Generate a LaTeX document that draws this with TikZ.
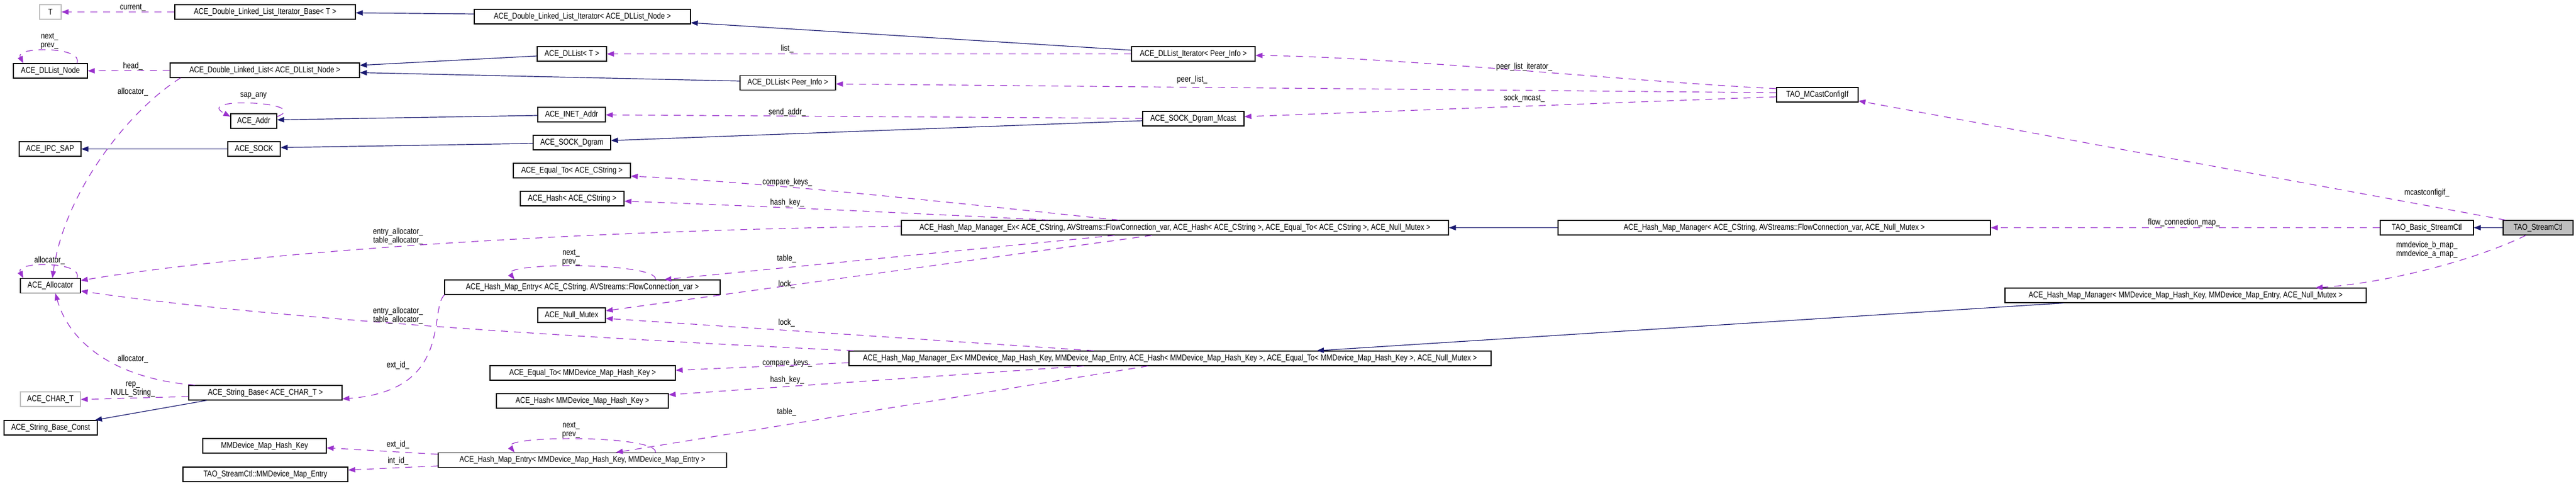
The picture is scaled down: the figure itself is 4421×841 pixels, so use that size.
\documentclass[tikz,border=0pt]{standalone}
\usepackage{fontspec}
\setmainfont{Liberation Sans}[FakeStretch=0.83]
\usetikzlibrary{arrows.meta}
\definecolor{navyc}{HTML}{191970}
\definecolor{purpc}{HTML}{9A32CD}
\definecolor{grayc}{HTML}{BFBFBF}
\begin{document}
\begin{tikzpicture}[x=1pt,y=-1pt,
  box/.style={draw=black,line width=1.2pt,inner sep=0pt,minimum height=25pt,font=\fontsize{14.5}{15}\selectfont,anchor=center},
  gbox/.style={box,draw=grayc},
  lab/.style={inner sep=0pt,font=\fontsize{14.5}{15}\selectfont,align=center},
  inhe/.style={draw=navyc,line width=1.2pt,-{Triangle[length=12pt,width=9pt]}},
  usg/.style={draw=purpc,line width=1.2pt,dash pattern=on 12pt off 10pt,-{Triangle[length=12pt,width=9pt]}}
]
\fill[white] (0,0) rectangle (4421,841);
\useasboundingbox (0,0) rectangle (4421,841);
% nodes
\node[gbox,minimum width=37pt] (nT) at (86.5,20.5) {T};
\node[box,minimum width=310pt] (nItBase) at (455,20.5) {ACE\_Double\_Linked\_List\_Iterator\_Base< T >};
\node[box,minimum width=371pt] (nIt) at (999.5,28.5) {ACE\_Double\_Linked\_List\_Iterator< ACE\_DLList\_Node >};
\node[box,minimum width=127pt] (nNode) at (86.5,121.5) {ACE\_DLList\_Node};
\node[box,minimum width=325pt] (nDLL) at (454.5,120.5) {ACE\_Double\_Linked\_List< ACE\_DLList\_Node >};
\node[box,minimum width=119pt] (nDLListT) at (981.5,92.5) {ACE\_DLList< T >};
\node[box,minimum width=164pt] (nDLListP) at (1352,142) {ACE\_DLList< Peer\_Info >};
\node[box,minimum width=212pt] (nDLIterP) at (2048,92.5) {ACE\_DLList\_Iterator< Peer\_Info >};
\node[box,minimum width=140pt] (nMcast) at (3119,162.5) {TAO\_MCastConfigIf};
\node[box,minimum width=79pt] (nAddr) at (435.5,207.5) {ACE\_Addr};
\node[box,minimum width=116pt] (nInet) at (981,196.5) {ACE\_INET\_Addr};
\node[box,minimum width=106pt] (nIPC) at (86,255.5) {ACE\_IPC\_SAP};
\node[box,minimum width=90pt] (nSock) at (436,255.5) {ACE\_SOCK};
\node[box,minimum width=133pt] (nDgram) at (981.5,244.5) {ACE\_SOCK\_Dgram};
\node[box,minimum width=174pt] (nDgramM) at (2048,203.5) {ACE\_SOCK\_Dgram\_Mcast};
\node[box,minimum width=201pt] (nEqCS) at (981.5,292.5) {ACE\_Equal\_To< ACE\_CString >};
\node[box,minimum width=178pt] (nHashCS) at (982,340.5) {ACE\_Hash< ACE\_CString >};
\node[box,minimum width=939pt] (nExCS) at (2016.5,390.5) {ACE\_Hash\_Map\_Manager\_Ex< ACE\_CString, AVStreams::FlowConnection\_var, ACE\_Hash< ACE\_CString >, ACE\_Equal\_To< ACE\_CString >, ACE\_Null\_Mutex >};
\node[box,minimum width=742pt] (nMgrCS) at (3045,390.5) {ACE\_Hash\_Map\_Manager< ACE\_CString, AVStreams::FlowConnection\_var, ACE\_Null\_Mutex >};
\node[box,minimum width=160pt] (nBasic) at (4165,390.5) {TAO\_Basic\_StreamCtl};
\node[box,minimum width=120pt,fill=grayc] (nCtl) at (4356,390.5) {TAO\_StreamCtl};
\node[box,minimum width=103pt] (nAlloc) at (86.5,490) {ACE\_Allocator};
\node[box,minimum width=473pt] (nEntryCS) at (999.5,492.5) {ACE\_Hash\_Map\_Entry< ACE\_CString, AVStreams::FlowConnection\_var >};
\node[box,minimum width=116pt] (nNull) at (981,540.5) {ACE\_Null\_Mutex};
\node[box,minimum width=620pt] (nMgrMM) at (3751,506.5) {ACE\_Hash\_Map\_Manager< MMDevice\_Map\_Hash\_Key, MMDevice\_Map\_Entry, ACE\_Null\_Mutex >};
\node[box,minimum width=1102pt] (nExMM) at (2008,614.5) {ACE\_Hash\_Map\_Manager\_Ex< MMDevice\_Map\_Hash\_Key, MMDevice\_Map\_Entry, ACE\_Hash< MMDevice\_Map\_Hash\_Key >, ACE\_Equal\_To< MMDevice\_Map\_Hash\_Key >, ACE\_Null\_Mutex >};
\node[box,minimum width=318pt] (nEqMM) at (1000,639.5) {ACE\_Equal\_To< MMDevice\_Map\_Hash\_Key >};
\node[box,minimum width=263pt] (nStrBase) at (455.5,673.5) {ACE\_String\_Base< ACE\_CHAR\_T >};
\node[gbox,minimum width=103pt] (nCharT) at (86.5,684.5) {ACE\_CHAR\_T};
\node[box,minimum width=295pt] (nHashMM) at (999.5,687.5) {ACE\_Hash< MMDevice\_Map\_Hash\_Key >};
\node[box,minimum width=160pt] (nStrConst) at (87,733.5) {ACE\_String\_Base\_Const};
\node[box,minimum width=212pt] (nMMKey) at (454,764.5) {MMDevice\_Map\_Hash\_Key};
\node[box,minimum width=495pt] (nEntryMM) at (999.5,789) {ACE\_Hash\_Map\_Entry< MMDevice\_Map\_Hash\_Key, MMDevice\_Map\_Entry >};
\node[box,minimum width=283pt] (nMMEntry) at (455.5,813.5) {TAO\_StreamCtl::MMDevice\_Map\_Entry};
% inheritance
\draw[inhe] ([yshift=4.5pt]nIt.west) -- ([yshift=-1.5pt]nItBase.east);
\draw[inhe] ([yshift=-3.5pt]nDLListT.west) -- ([yshift=8.5pt]nDLL.east);
\draw[inhe] ([yshift=3pt]nDLListP.west) -- ([yshift=-4pt]nDLL.east);
\draw[inhe] ([yshift=6.5pt]nDLIterP.west) -- ([yshift=-10.5pt]nIt.east);
\draw[inhe] ([yshift=-1.5pt]nInet.west) -- ([yshift=2pt]nAddr.east);
\draw[inhe] ([yshift=-1.5pt]nDgram.west) -- ([yshift=2.5pt]nSock.east);
\draw[inhe] (nSock.west) -- (nIPC.east);
\draw[inhe] ([yshift=-3.5pt]nDgramM.west) -- ([yshift=3.5pt]nDgram.east);
\draw[inhe] ([xshift=-100.5pt]nStrBase.south) -- ([xshift=76pt]nStrConst.north);
\draw[inhe] (nMgrCS.west) -- (nExCS.east);
\draw[inhe] ([xshift=-209pt]nMgrMM.south) -- ([xshift=252pt]nExMM.north);
\draw[inhe] (nCtl.west) -- (nBasic.east);
% usage
\draw[usg] (nItBase.west) -- (nT.east);
\draw[usg] (nDLL.west) -- (nNode.east);
\draw[usg] ([xshift=45.5pt]nNode.north) .. controls +(13,-29) and +(-15,-29) .. ([xshift=-46.5pt]nNode.north);
\draw[usg] ([xshift=-144.5pt]nDLL.south) .. controls (220,190) and (110,330) .. ([xshift=3.5pt]nAlloc.north);
\draw[usg] ([xshift=45.5pt]nAlloc.north) .. controls +(13,-29) and +(-15,-29) .. ([xshift=-46.5pt]nAlloc.north);
\draw[usg] ([yshift=7.5pt]nAddr.east) .. controls (540,175) and (330,165) .. ([yshift=7.5pt]nAddr.west);
\draw[usg] (nDLIterP.west) -- (nDLListT.east);
\draw[usg] ([yshift=10.5pt]nMcast.west) .. controls (2800,140) and (2400,98) .. ([yshift=-2.5pt]nDLIterP.east);
\draw[usg] ([yshift=3.5pt]nMcast.west) -- ([yshift=-2pt]nDLListP.east);
\draw[usg] ([yshift=-3.5pt]nMcast.west) -- ([yshift=3.5pt]nDgramM.east);
\draw[usg] ([yshift=0.5pt]nDgramM.west) -- ([yshift=-0.5pt]nInet.east);
\draw[usg] ([xshift=-56pt]nCtl.north) -- ([yshift=-10.5pt]nMcast.east);
\draw[usg] (nBasic.west) -- (nMgrCS.east);
\draw[usg] ([xshift=-21pt]nCtl.south) .. controls (4250,445) and (4100,485) .. ([xshift=223pt]nMgrMM.north);
\draw[usg] ([xshift=-96.5pt]nExCS.north) .. controls (1700,355) and (1350,315) .. ([yshift=-9.5pt]nEqCS.east);
\draw[usg] ([xshift=-216.5pt]nExCS.north) .. controls (1650,370) and (1350,355) .. ([yshift=-4.5pt]nHashCS.east);
\draw[usg] ([yshift=2.5pt]nExCS.west) .. controls (1000,395) and (450,430) .. ([yshift=9pt]nAlloc.east);
\draw[usg] ([xshift=-103.5pt]nExCS.south) -- ([xshift=140.5pt]nEntryCS.north);
\draw[usg] ([xshift=-39.5pt]nExCS.south) -- ([yshift=7.5pt]nNull.east);
\draw[usg] ([xshift=125.5pt]nEntryCS.north) .. controls +(5,-30) and +(-23,-30) .. ([xshift=-116.5pt]nEntryCS.north);
\draw[usg] ([xshift=-236.5pt]nEntryCS.south) .. controls (735,530) and (780,670) .. ([yshift=-10.5pt]nStrBase.east);
\draw[usg] ([xshift=-38pt]nExMM.south) -- ([xshift=57.5pt]nEntryMM.north);
\draw[usg] ([xshift=125.5pt]nEntryMM.north) .. controls +(5,-30) and +(-23,-30) .. ([xshift=-116.5pt]nEntryMM.north);
\draw[usg] ([yshift=-7.5pt]nExMM.west) -- ([yshift=4.5pt]nEqMM.east);
\draw[usg] ([xshift=-148pt]nExMM.south) -- ([yshift=10.5pt]nHashMM.east);
\draw[usg] ([xshift=-131pt]nExMM.north) -- ([yshift=-5.5pt]nNull.east);
\draw[usg] ([xshift=-543pt]nExMM.north) .. controls (1000,580) and (450,545) .. ([yshift=-9pt]nAlloc.east);
\draw[usg] ([yshift=10pt]nEntryMM.west) -- ([yshift=-3.5pt]nMMKey.east);
\draw[usg] ([yshift=-10pt]nEntryMM.west) -- ([yshift=7.5pt]nMMEntry.east);
\draw[usg] ([xshift=-120.5pt]nStrBase.north) .. controls (200,650) and (120,590) .. ([xshift=8.5pt]nAlloc.south);
\draw[usg] ([yshift=-6.5pt]nStrBase.west) -- ([yshift=-0.5pt]nCharT.east);
% labels
\node[lab] (l1) at (228,13) {current\_};
\node[lab] (l2) at (228,114) {head\_};
\node[lab] (l3) at (85,71) {next\_\\prev\_};
\node[lab] (l4) at (228,158) {allocator\_};
\node[lab] (l5) at (435,164) {sap\_any};
\node[lab] (l6) at (85,447) {allocator\_};
\node[lab] (l7) at (228,616) {allocator\_};
\node[lab] (l8) at (228,668) {rep\_\\NULL\_String\_};
\node[lab] (l9) at (1351,84) {list\_};
\node[lab] (l10) at (1351,193) {send\_addr\_};
\node[lab] (l11) at (1351,313) {compare\_keys\_};
\node[lab] (l12) at (1351,348) {hash\_key\_};
\node[lab] (l13) at (683,405) {entry\_allocator\_\\table\_allocator\_};
\node[lab] (l14) at (980,442) {next\_\\prev\_};
\node[lab] (l15) at (1350,444) {table\_};
\node[lab] (l16) at (1350,488) {lock\_};
\node[lab] (l17) at (683,541) {entry\_allocator\_\\table\_allocator\_};
\node[lab] (l18) at (1350,554) {lock\_};
\node[lab] (l19) at (683,627) {ext\_id\_};
\node[lab] (l20) at (1351,623) {compare\_keys\_};
\node[lab] (l21) at (1351,652) {hash\_key\_};
\node[lab] (l22) at (1350,707) {table\_};
\node[lab] (l23) at (980,738) {next\_\\prev\_};
\node[lab] (l24) at (683,763) {ext\_id\_};
\node[lab] (l25) at (683,791) {int\_id\_};
\node[lab] (l26) at (2046,137) {peer\_list\_};
\node[lab] (l27) at (2616,115) {peer\_list\_iterator\_};
\node[lab] (l28) at (2616,169) {sock\_mcast\_};
\node[lab] (l29) at (4165,331) {mcastconfigif\_};
\node[lab] (l30) at (3748,382) {flow\_connection\_map\_};
\node[lab] (l31) at (4165,428) {mmdevice\_b\_map\_\\mmdevice\_a\_map\_};
\end{tikzpicture}
\end{document}
